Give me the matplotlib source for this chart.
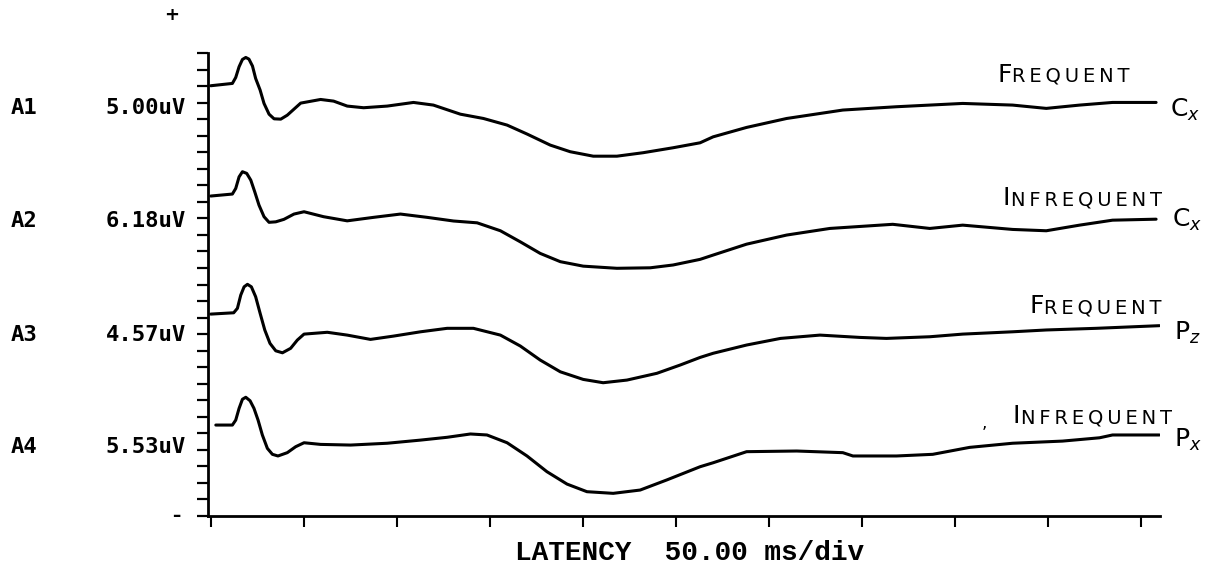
import numpy as np
import matplotlib.pyplot as plt

# latency in ms, amplitude in vertical divisions (one tick = one division)
lat1 = [0, 11.6, 13.4, 15.2, 17.0, 18.8, 20.5, 22.4, 24.1, 26.5, 28.6, 31.3, 34.0, 37.6, 41.1, 48.3, 59.0,
        66.0, 73.3, 82.1, 94.8, 108.9, 119.6, 134.1, 146.5, 159.2, 169.9, 182.4, 193.1, 205.5, 218.2, 232.3,
        248.4, 262.9, 269.9, 287.9, 309.4, 339.6, 368.4, 404.0, 430.8, 448.9, 466.8, 484.5, 507.9]
amp1 = [26.02, 26.16, 26.52, 27.17, 27.61, 27.73, 27.63, 27.21, 26.46, 25.76, 24.95, 24.30, 24.02, 24.00,
        24.24, 24.97, 25.19, 25.09, 24.79, 24.69, 24.79, 25.01, 24.85, 24.30, 24.04, 23.64, 23.10, 22.43,
        22.03, 21.76, 21.76, 21.97, 22.27, 22.57, 22.93, 23.50, 24.04, 24.55, 24.75, 24.95, 24.85, 24.65,
        24.85, 25.01, 25.01]

lat2 = [0, 11.6, 13.4, 15.2, 17.0, 19.3, 21.5, 23.6, 25.9, 28.6, 31.3, 34.9, 39.3, 44.7, 50.1, 60.6, 73.3,
        87.4, 101.9, 116.3, 130.4, 143.1, 155.6, 166.3, 177.0, 187.8, 200.1, 218.2, 236.1, 248.4, 262.9,
        269.9, 287.9, 309.4, 332.6, 366.4, 386.3, 404.0, 430.8, 448.9, 466.8, 484.5, 507.9]
amp2 = [19.35, 19.47, 19.81, 20.51, 20.82, 20.72, 20.31, 19.61, 18.80, 18.10, 17.76, 17.79, 17.94, 18.26,
        18.40, 18.10, 17.85, 18.06, 18.26, 18.06, 17.84, 17.73, 17.25, 16.58, 15.88, 15.38, 15.11, 14.98,
        15.01, 15.18, 15.52, 15.78, 16.44, 16.99, 17.39, 17.64, 17.39, 17.59, 17.33, 17.25, 17.59, 17.89,
        17.95]

lat3 = [0, 12.3, 14.3, 16.1, 17.9, 19.7, 21.8, 24.1, 26.5, 29.0, 31.8, 34.9, 38.5, 42.9, 46.5, 50.1, 62.6,
        73.3, 85.8, 98.2, 112.7, 127.0, 141.1, 155.6, 166.3, 177.0, 187.8, 200.1, 210.8, 223.6, 239.7, 252.2,
        262.9, 269.9, 287.9, 306.1, 327.3, 348.7, 363.0, 386.3, 404.0, 430.8, 448.9, 475.7, 509.7]
amp3 = [12.21, 12.29, 12.56, 13.36, 13.86, 14.01, 13.86, 13.26, 12.26, 11.25, 10.44, 9.99, 9.87, 10.14,
        10.64, 11.00, 11.11, 10.94, 10.68, 10.88, 11.14, 11.35, 11.35, 10.94, 10.28, 9.43, 8.72, 8.26, 8.06,
        8.22, 8.63, 9.13, 9.59, 9.84, 10.34, 10.74, 10.94, 10.80, 10.74, 10.84, 11.00, 11.14, 11.25, 11.35,
        11.51]

lat4 = [2.7, 11.6, 13.4, 15.2, 17.0, 18.8, 21.1, 23.2, 25.4, 27.7, 30.4, 33.1, 36.1, 41.1, 45.6, 50.1, 59.0,
        75.1, 94.8, 112.7, 127.0, 139.5, 148.4, 159.2, 169.9, 180.6, 191.4, 202.1, 216.2, 230.7, 245.0,
        262.9, 269.9, 287.9, 314.8, 339.6, 345.0, 368.4, 387.9, 407.7, 430.8, 457.6, 477.5, 484.5, 509.7]
amp4 = [5.50, 5.50, 5.80, 6.51, 7.06, 7.18, 6.97, 6.51, 5.80, 4.90, 4.09, 3.73, 3.63, 3.83, 4.19, 4.43,
        4.33, 4.29, 4.40, 4.59, 4.76, 4.96, 4.90, 4.43, 3.63, 2.68, 1.93, 1.47, 1.37, 1.57, 2.18, 2.98, 3.22,
        3.89, 3.93, 3.83, 3.63, 3.63, 3.73, 4.15, 4.40, 4.53, 4.73, 4.90, 4.90]

channels = ['A1', 'A2', 'A3', 'A4']
scales = ['5.00uV', '6.18uV', '4.57uV', '5.53uV']
conditions = ['FREQUENT', 'INFREQUENT', 'FREQUENT', 'INFREQUENT']
sites = ['C$_x$', 'C$_x$', 'P$_z$', 'P$_x$']
x_ticks = np.arange(0, 501, 50)
y_ticks = np.arange(0, 29, 1)

W, H = 1215, 579


def fpos(x, y):
    return x / W, 1 - y / H


fig = plt.figure(figsize=(W / 100, H / 100), dpi=100)
ax = fig.add_axes([208 / W, 63 / H, 952 / W, 463 / H])

for lat, amp in [(lat1, amp1), (lat2, amp2), (lat3, amp3), (lat4, amp4)]:
    ax.plot(lat, amp, color='black', lw=2.2, solid_capstyle='round', solid_joinstyle='round')

ax.set_xlim(-1.5, 510)
ax.set_ylim(0, 28)
ax.set_xticks(x_ticks)
ax.set_yticks(y_ticks)
ax.set_xticklabels([])
ax.set_yticklabels([])
ax.tick_params(axis='x', direction='out', length=8, width=1.5, color='black')
ax.tick_params(axis='y', direction='out', length=8, width=1.6, color='black')
for s in ['top', 'right']:
    ax.spines[s].set_visible(False)
for s in ['left', 'bottom']:
    ax.spines[s].set_linewidth(2.0)

# channel labels on the left
label_y = [108, 221, 335, 447]
for ch, sc, ly in zip(channels, scales, label_y):
    fig.text(*fpos(11, ly), ch, family='DejaVu Sans Mono', fontsize=16, fontweight='bold', va='center', ha='left')
    fig.text(*fpos(186, ly), sc, family='DejaVu Sans Mono', fontsize=16, fontweight='bold', va='center', ha='right')

fig.text(*fpos(172, 15), '+', fontsize=13, fontweight='bold', ha='center', va='center')
fig.text(*fpos(176, 516), '\u2013', fontsize=12, fontweight='bold', ha='center', va='center')

# handwritten condition labels on the right: big first letter, small caps after
cond_pos = [(1130, 82), (1162, 205), (1162, 313), (1172, 423)]
site_pos = [(1185, 110), (1187, 220), (1187, 333), (1188, 440)]
renderer = fig.canvas.get_renderer()
for cond, site, cp, sp in zip(conditions, sites, cond_pos, site_pos):
    rest = '\u2009'.join(cond[1:])
    t = fig.text(*fpos(*cp), rest, family='DejaVu Sans', fontsize=14, ha='right', va='baseline')
    x0 = t.get_window_extent(renderer).x0
    fig.text(x0 / W - 1 / W, 1 - cp[1] / H, cond[0], family='DejaVu Sans', fontsize=18,
             ha='right', va='baseline')
    fig.text(*fpos(*sp), site, family='DejaVu Sans', fontsize=18, ha='center', va='center')
fig.text(*fpos(984, 423), ',', fontsize=12, ha='center', va='center')

fig.text(*fpos(690, 553), 'LATENCY  50.00 ms/div', family='Liberation Mono', fontsize=20,
         fontweight='bold', ha='center', va='center')

fig.savefig('out.png', dpi=100, facecolor='white')
